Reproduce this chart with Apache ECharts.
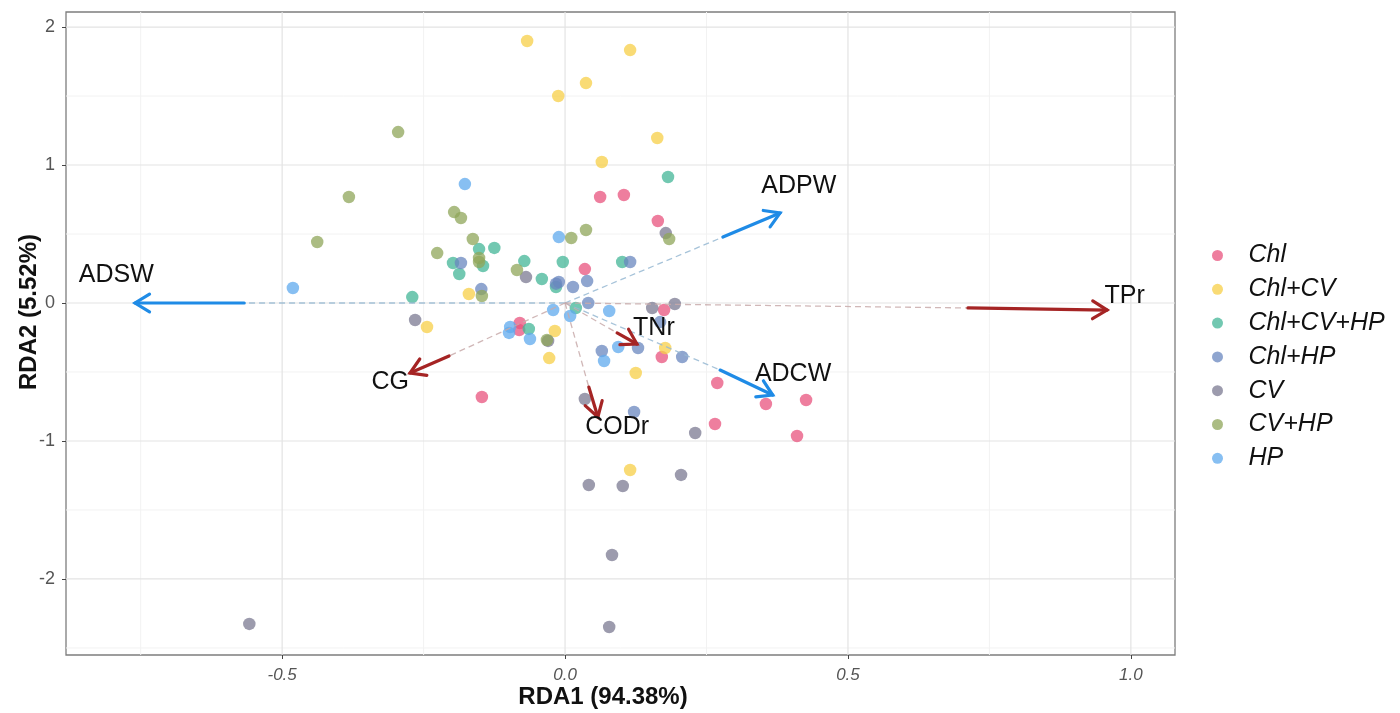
<!DOCTYPE html>
<html><head><meta charset="utf-8">
<script src="https://cdn.jsdelivr.net/npm/echarts@6/dist/echarts.min.js"></script>
<style>html,body{margin:0;padding:0;background:#fff}#c{width:1400px;height:713px}</style>
</head><body><div id="c"></div>
<script>
// ---------------- data ----------------
const groups = ['Chl', 'Chl+CV', 'Chl+CV+HP', 'Chl+HP', 'CV', 'CV+HP', 'HP'];

const ptsChl = [
  [0.062, 0.768], [0.104, 0.783], [0.164, 0.594], [0.035, 0.246], [0.175, -0.051],
  [0.171, -0.391], [0.269, -0.580], [0.355, -0.732], [0.426, -0.703], [0.265, -0.877],
  [0.410, -0.964], [-0.147, -0.681], [-0.080, -0.145], [-0.081, -0.196]
];
const ptsChlCV = [
  [-0.067, 1.899], [0.115, 1.833], [0.037, 1.594], [-0.012, 1.500], [0.163, 1.196],
  [0.065, 1.022], [-0.170, 0.065], [-0.244, -0.174], [-0.018, -0.203], [-0.028, -0.399],
  [0.177, -0.326], [0.125, -0.507], [0.115, -1.210]
];
const ptsChlCVHP = [
  [0.182, 0.913], [-0.152, 0.391], [-0.125, 0.399], [-0.198, 0.290], [-0.187, 0.210],
  [-0.145, 0.268], [-0.072, 0.304], [-0.041, 0.174], [-0.004, 0.297], [0.101, 0.297],
  [-0.016, 0.116], [0.019, -0.036], [-0.270, 0.043], [-0.064, -0.188]
];
const ptsChlHP = [
  [-0.184, 0.290], [-0.148, 0.101], [-0.011, 0.152], [0.014, 0.116], [0.039, 0.159],
  [0.115, 0.297], [0.041, 0.000], [0.129, -0.326], [0.207, -0.391], [0.065, -0.348],
  [0.122, -0.790], [0.168, -0.138], [-0.016, 0.140]
];
const ptsCV = [
  [-0.558, -2.326], [0.078, -2.348], [0.083, -1.826], [0.042, -1.319], [0.102, -1.326],
  [0.205, -1.246], [0.230, -0.942], [0.035, -0.696], [-0.265, -0.123], [-0.069, 0.188],
  [0.178, 0.507], [0.154, -0.036], [0.194, -0.007], [-0.030, -0.275]
];
const ptsCVHP = [
  [-0.295, 1.239], [-0.382, 0.768], [-0.438, 0.442], [-0.226, 0.362], [-0.196, 0.659],
  [-0.184, 0.616], [-0.163, 0.464], [-0.152, 0.326], [-0.085, 0.239], [-0.147, 0.051],
  [0.011, 0.471], [0.037, 0.529], [0.184, 0.464], [-0.152, 0.297], [-0.032, -0.268]
];
const ptsHP = [
  [-0.481, 0.109], [-0.177, 0.862], [-0.011, 0.478], [-0.021, -0.051], [0.009, -0.094],
  [0.078, -0.058], [-0.097, -0.174], [-0.099, -0.217], [-0.062, -0.261], [0.094, -0.319],
  [0.069, -0.420]
];
const groupPoints = [ptsChl, ptsChlCV, ptsChlCVHP, ptsChlHP, ptsCV, ptsCVHP, ptsHP];

// environmental arrows (RDA biplot)
const arrowNames = ['ADSW', 'ADPW', 'ADCW', 'TPr', 'TNr', 'CODr', 'CG'];
const arrowKind  = ['blue', 'blue', 'blue', 'red', 'red', 'red', 'red'];
const arrowTailX = [-0.567, 0.279, 0.274, 0.712, 0.092, 0.042, -0.205];
const arrowTailY = [0.000, 0.478, -0.486, -0.036, -0.217, -0.609, -0.384];
const arrowHeadX = [-0.760, 0.380, 0.367, 0.958, 0.127, 0.058, -0.274];
const arrowHeadY = [0.000, 0.652, -0.667, -0.051, -0.297, -0.826, -0.507];
const arrowLabelX = [-0.793, 0.413, 0.403, 0.989, 0.157, 0.092, -0.309];
const arrowLabelY = [0.203, 0.848, -0.514, 0.051, -0.181, -0.899, -0.572];

const xTicks = [-0.5, 0.0, 0.5, 1.0];
const yTicks = [-2, -1, 0, 1, 2];
const xMinor = [-0.75, -0.25, 0.25, 0.75];
const yMinor = [-2.5, -1.5, -0.5, 0.5, 1.5];
const xRange = [-0.882, 1.078];
const yRange = [-2.551, 2.109];

// ---------------- styles ----------------
const groupColors = ['#E8537E', '#F7CF47', '#43B597', '#6A87BF', '#7B7992', '#8FA65A', '#5FA9EE'];
const arrowColors = { blue: '#1F8BE6', red: '#A52424' };
const dashColors = { blue: 'rgba(150,185,210,0.85)', red: 'rgba(200,170,170,0.85)' };
const FONT = '"Liberation Sans", Arial, sans-serif';

const chart = echarts.init(document.getElementById('c'), null, { renderer: 'canvas' });

// gridline items: [value, direction(0 = vertical / x, 1 = horizontal / y), major(1) or minor(0)]
const gridData = [];
xMinor.forEach(v => gridData.push([v, 0, 0]));
yMinor.forEach(v => gridData.push([v, 1, 0]));
xTicks.forEach(v => gridData.push([v, 0, 1]));
yTicks.forEach(v => gridData.push([v, 1, 1]));

const series = [];
series.push({
  name: '__grid', type: 'custom', z: 1, silent: true, clip: true,
  data: gridData,
  renderItem: function (params, api) {
    const cs = params.coordSys;
    const v = api.value(0), dir = api.value(1), major = api.value(2);
    let shape;
    if (dir === 0) {
      const p = api.coord([v, 0]);
      shape = { x1: p[0], y1: cs.y, x2: p[0], y2: cs.y + cs.height };
    } else {
      const p = api.coord([0, v]);
      shape = { x1: cs.x, y1: p[1], x2: cs.x + cs.width, y2: p[1] };
    }
    return { type: 'line', shape: shape,
      style: { stroke: major ? '#e3e3e3' : '#f2f2f2', lineWidth: major ? 1.2 : 1 } };
  }
});
groups.forEach((g, i) => {
  series.push({
    name: g, type: 'scatter', data: groupPoints[i], symbol: 'circle', symbolSize: 12.5, z: 3,
    itemStyle: { color: groupColors[i], opacity: 0.75 }
  });
});

const arrowData = arrowNames.map((n, i) => [arrowTailX[i], arrowTailY[i], arrowHeadX[i], arrowHeadY[i], arrowLabelX[i], arrowLabelY[i]]);
series.push({
  name: '__arrows', type: 'custom', z: 4, silent: true,
  data: arrowData,
  renderItem: function (params, api) {
    const i = params.dataIndex;
    const kind = arrowKind[i];
    const o = api.coord([0, 0]);
    const t = api.coord([api.value(0), api.value(1)]);
    const h = api.coord([api.value(2), api.value(3)]);
    const l = api.coord([api.value(4), api.value(5)]);
    const a = Math.atan2(h[1] - t[1], h[0] - t[0]);
    const L = 17, th = 0.55;
    const w1 = [h[0] - L * Math.cos(a - th), h[1] - L * Math.sin(a - th)];
    const w2 = [h[0] - L * Math.cos(a + th), h[1] - L * Math.sin(a + th)];
    const col = arrowColors[kind];
    return {
      type: 'group',
      children: [
        { type: 'line', shape: { x1: o[0], y1: o[1], x2: t[0], y2: t[1] },
          style: { stroke: dashColors[kind], lineWidth: 1.3, lineDash: [6, 4] } },
        { type: 'line', shape: { x1: t[0], y1: t[1], x2: h[0], y2: h[1] },
          style: { stroke: col, lineWidth: 3.2, lineCap: 'round' } },
        { type: 'polyline', shape: { points: [w1, h, w2] },
          style: { stroke: col, lineWidth: 3.2, fill: null, lineCap: 'round', lineJoin: 'miter' } },
        { type: 'text', x: l[0], y: l[1],
          style: { text: arrowNames[i], fill: '#111', font: '25px ' + FONT, align: 'center', verticalAlign: 'middle' } }
      ]
    };
  }
});

chart.setOption({
  animation: false,
  backgroundColor: '#fff',
  textStyle: { fontFamily: FONT },
  grid: { left: 66, right: 225, top: 12, bottom: 58, show: true, borderColor: '#7d7d7d', borderWidth: 1.3, backgroundColor: 'transparent' },
  xAxis: {
    type: 'value', min: xRange[0], max: xRange[1],
    splitLine: { show: false }, axisLine: { show: false, onZero: false },
    axisTick: { show: true, customValues: xTicks, length: 4, lineStyle: { color: '#444' } },
    axisLabel: { customValues: xTicks, formatter: v => v.toFixed(1), color: '#555', fontSize: 17, fontStyle: 'italic', margin: 12, fontFamily: FONT }
  },
  yAxis: {
    type: 'value', min: yRange[0], max: yRange[1],
    splitLine: { show: false }, axisLine: { show: false, onZero: false },
    axisTick: { show: true, customValues: yTicks, length: 4, lineStyle: { color: '#444' } },
    axisLabel: { customValues: yTicks, formatter: v => String(v), color: '#555', fontSize: 18, margin: 11, fontFamily: FONT }
  },
  graphic: [
    { type: 'text', x: 0, y: 0, style: { text: 'RDA1 (94.38%)', font: 'bold 24px ' + FONT, fill: '#111', align: 'center', verticalAlign: 'middle', x: 603, y: 697 }, z: 10 },
    { type: 'text', rotation: Math.PI / 2, x: 29, y: 312, style: { text: 'RDA2 (5.52%)', font: 'bold 24px ' + FONT, fill: '#111', align: 'center', verticalAlign: 'middle', x: 0, y: 0 }, z: 10 }
  ],
  legend: {
    data: groups, orient: 'vertical', left: 1212, top: 243, padding: 0,
    icon: 'circle', itemWidth: 52, itemHeight: 11, itemGap: 8.8,
    textStyle: { fontSize: 25, fontStyle: 'italic', color: '#111', lineHeight: 24, fontFamily: FONT },
    selectedMode: false
  },
  series: series
});
</script>
</body></html>
